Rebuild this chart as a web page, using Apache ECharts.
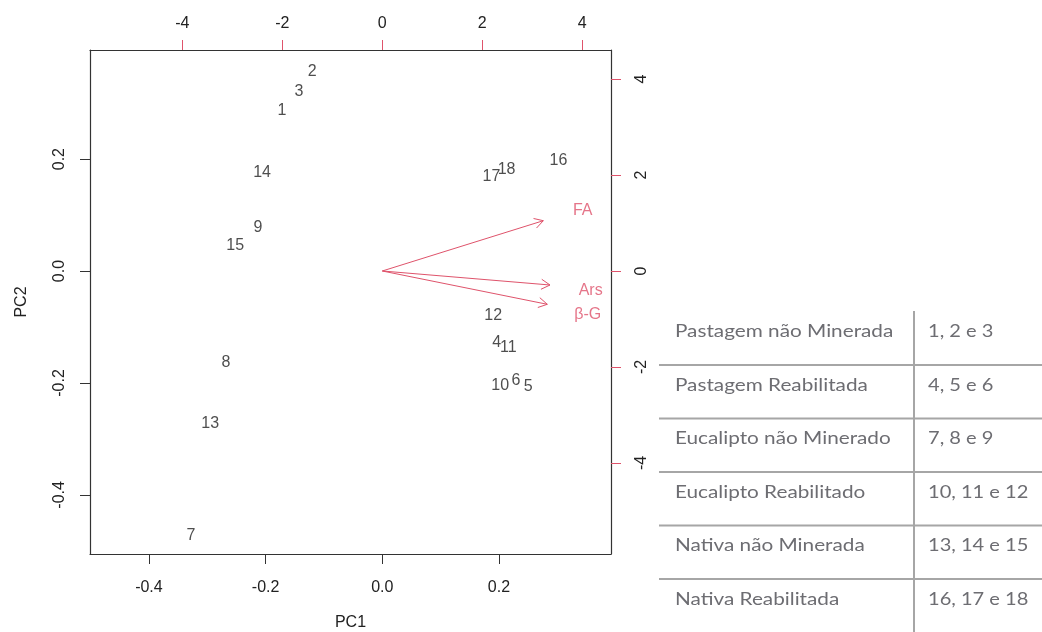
<!DOCTYPE html>
<html>
<head>
<meta charset="utf-8">
<script src="https://cdn.jsdelivr.net/npm/echarts@6/dist/echarts.min.js"></script>
<style>
html,body{margin:0;padding:0;background:#fff;}
#chart{width:1042px;height:632px;}
</style>
</head>
<body>
<div id="chart"></div>
<script>
// ---- data ----
const sampleIds = ['1','2','3','4','5','6','7','8','9','10','11','12','13','14','15','16','17','18'];
const pc1Scores = [-0.172,-0.120,-0.143,0.196,0.250,0.229,-0.328,-0.268,-0.213,0.202,0.216,0.190,-0.295,-0.206,-0.252,0.302,0.187,0.213];
const pc2Scores = [0.286,0.356,0.320,-0.128,-0.207,-0.196,-0.472,-0.164,0.077,-0.205,-0.136,-0.079,-0.273,0.176,0.045,0.197,0.169,0.182];

const varNames = ['FA','Ars','β-G'];
const arrowTipX = [3.22, 3.354, 3.30];
const arrowTipY = [1.048, -0.292, -0.694];
const varLabelX = [4.008, 4.168, 4.108];
const varLabelY = [1.256, -0.410, -0.917];

const pcTicks = [-0.4, -0.2, 0.0, 0.2];
const loadTicks = [-4, -2, 0, 2, 4];

const groupNames = ['Pastagem não Minerada','Pastagem Reabilitada','Eucalipto não Minerado','Eucalipto Reabilitado','Nativa não Minerada','Nativa Reabilitada'];
const groupSamples = ['1, 2 e 3','4, 5 e 6','7, 8 e 9','10, 11 e 12','13, 14 e 15','16, 17 e 18'];

// ---- styling ----
const FONT = 'Liberation Sans, Arial, sans-serif';
const RED = '#DF536B';
const DARK = '#333';

function axisCommon(ticks, fmt, tickColor, rotate, margin) {
  return {
    type: 'value',
    axisLine: { show: true, onZero: false, lineStyle: { color: DARK, width: 1.2 } },
    axisTick: { show: true, inside: false, length: 10, customValues: ticks, lineStyle: { color: tickColor, width: 1 } },
    axisLabel: { show: true, customValues: ticks, formatter: fmt, rotate: rotate, margin: margin,
                 fontFamily: FONT, fontSize: 16, color: '#222' },
    splitLine: { show: false }
  };
}

const chart = echarts.init(document.getElementById('chart'), null, { renderer: 'canvas' });

const xBottom = Object.assign(axisCommon(pcTicks, v => v.toFixed(1), DARK, 0, 26), {
  position: 'bottom', min: -0.501, max: 0.392,
  name: 'PC1', nameLocation: 'middle', nameGap: 61,
  nameTextStyle: { fontFamily: FONT, fontSize: 16, color: '#222' }
});
const xTop = Object.assign(axisCommon(loadTicks, v => String(v), RED, 0, 18), {
  position: 'top', min: -5.846, max: 4.574
});
const yLeft = Object.assign(axisCommon(pcTicks, v => v.toFixed(1), DARK, 90, 22), {
  position: 'left', min: -0.5057, max: 0.395,
  name: 'PC2', nameLocation: 'middle', nameGap: 60,
  nameTextStyle: { fontFamily: FONT, fontSize: 16, color: '#222' }
});
const yRight = Object.assign(axisCommon(loadTicks, v => String(v), RED, 90, 23), {
  position: 'right', min: -5.896, max: 4.604
});

const sampleData = sampleIds.map((id, i) => ({ name: id, value: [pc1Scores[i], pc2Scores[i]] }));
const varLabelData = varNames.map((n, i) => ({ name: n, value: [varLabelX[i], varLabelY[i]] }));
const arrowData = varNames.map((n, i) => ({ name: n, value: [arrowTipX[i], arrowTipY[i]] }));

// table graphics
const tblGraphics = [];
const rowTop = 331.7, rowStep = 53.5;
const TBL_FONT = { fontFamily: 'Lato, sans-serif', fontSize: 17, fill: '#6d6d72', verticalAlign: 'middle', align: 'left' };
groupNames.forEach((g, i) => {
  const cy = rowTop + i * rowStep;
  tblGraphics.push({ type: 'text', x: 675, y: cy, scaleX: 1.22, silent: true,
    style: Object.assign({ text: g }, TBL_FONT) });
  tblGraphics.push({ type: 'text', x: 928, y: cy, scaleX: 1.18, silent: true,
    style: Object.assign({ text: groupSamples[i] }, TBL_FONT) });
  if (i < groupNames.length - 1) {
    const ly = cy + rowStep / 2 + 6.5;
    tblGraphics.push({ type: 'line', silent: true,
      shape: { x1: 659, y1: ly, x2: 1042, y2: ly },
      style: { stroke: '#a6a6a6', lineWidth: 2 } });
  }
});
tblGraphics.push({ type: 'line', silent: true,
  shape: { x1: 914, y1: 311, x2: 914, y2: 632 },
  style: { stroke: '#a6a6a6', lineWidth: 2 } });

const option = {
  animation: false,
  backgroundColor: '#fff',
  grid: { left: 90, top: 50, width: 521, height: 504, show: false, containLabel: false, outerBoundsMode: 'none' },
  xAxis: [xBottom, xTop],
  yAxis: [yLeft, yRight],
  graphic: tblGraphics,
  series: [
    {
      type: 'scatter', xAxisIndex: 0, yAxisIndex: 0, silent: true,
      symbolSize: 1, itemStyle: { color: 'rgba(0,0,0,0)' },
      data: sampleData,
      label: { show: true, position: 'inside', formatter: '{b}', fontFamily: FONT, fontSize: 16, color: '#222' }
    },
    {
      type: 'custom', xAxisIndex: 1, yAxisIndex: 1, silent: true,
      data: arrowData,
      renderItem: function (params, api) {
        const o = api.coord([0, 0]);
        const t = api.coord([api.value(0), api.value(1)]);
        const ang = Math.atan2(t[1] - o[1], t[0] - o[0]);
        const L = 10, a = Math.PI / 6;
        const h1 = [t[0] - L * Math.cos(ang - a), t[1] - L * Math.sin(ang - a)];
        const h2 = [t[0] - L * Math.cos(ang + a), t[1] - L * Math.sin(ang + a)];
        return {
          type: 'group',
          children: [
            { type: 'line', shape: { x1: o[0], y1: o[1], x2: t[0], y2: t[1] }, style: { stroke: RED, lineWidth: 1 } },
            { type: 'polyline', shape: { points: [h1, t, h2] }, style: { stroke: RED, lineWidth: 1, fill: null } }
          ]
        };
      }
    },
    {
      type: 'scatter', xAxisIndex: 1, yAxisIndex: 1, silent: true,
      symbolSize: 1, itemStyle: { color: 'rgba(0,0,0,0)' },
      data: varLabelData,
      label: { show: true, position: 'inside', formatter: '{b}', fontFamily: FONT, fontSize: 16, color: RED }
    }
  ]
};
chart.setOption(option);
</script>
</body>
</html>
